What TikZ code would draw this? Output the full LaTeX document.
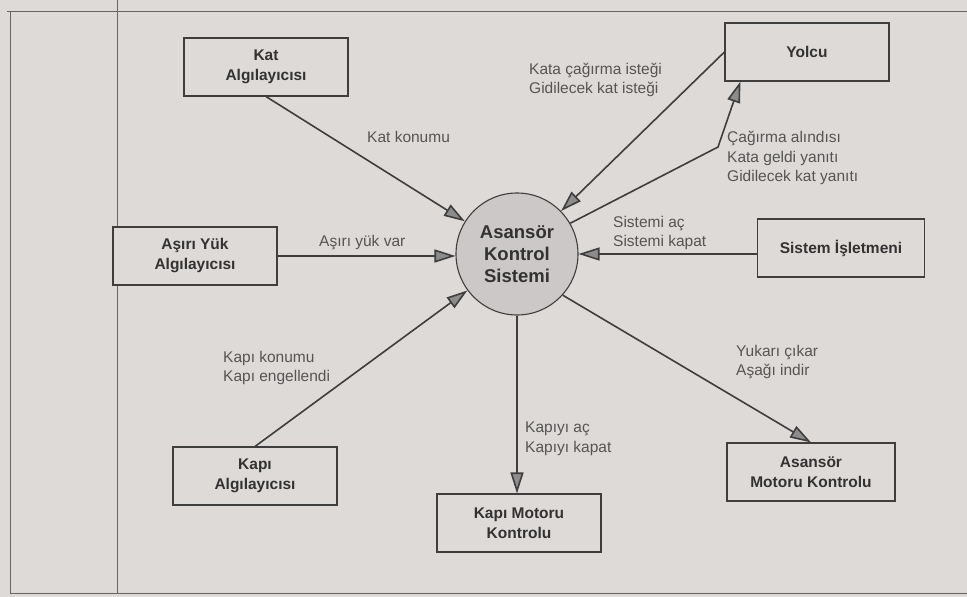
\documentclass[tikz,border=0pt]{standalone}
\usepackage{fontspec}
\setmainfont{Liberation Sans}
\usetikzlibrary{arrows.meta}
\definecolor{paperColor}{RGB}{222, 218, 216}
\definecolor{circleColor}{RGB}{204, 200, 199}
\definecolor{lineColor}{RGB}{62, 62, 62}
\definecolor{tipColor}{RGB}{140, 140, 140}
\definecolor{boxTextColor}{RGB}{50, 50, 50}
\definecolor{labelColor}{RGB}{85, 85, 85}

\begin{document}
\begin{tikzpicture}[
		x=1pt, y=-1pt,
		% Define styles for nodes
		processbox/.style={
				draw=lineColor,
				rectangle,
				line width=1.1pt,
				minimum width=164pt,
				minimum height=58pt,
				fill=paperColor,
				text=boxTextColor,
				align=center,
				font=\fontsize{15.5}{20}\selectfont\bfseries
			},
		controlproc/.style={
				draw=lineColor,
				circle,
				line width=1.1pt,
				minimum size=122pt,
				fill=circleColor,
				text=boxTextColor,
				align=center,
				font=\fontsize{18.5}{22}\selectfont\bfseries
			},
		flowlabel/.style={
				anchor=west,
				inner sep=0pt,
				align=left,
				text=labelColor,
				font=\fontsize{15.5}{19.5}\selectfont
			},
		flow/.style={
				-{Triangle[length=21pt, width=13pt, fill=tipColor]},
				line width=1.6pt,
				draw=lineColor
			},
		frameline/.style={
				line width=1pt,
				draw=lineColor!80
			}
	]

	% Page and frame
	\useasboundingbox (0,0) rectangle (967,597);
	\fill[paperColor] (0,0) rectangle (967,597);
	\draw[frameline] (7,11) -- (967,11);
	\draw[frameline] (10,11) -- (10,593) -- (967,593);
	\draw[frameline] (117,0) -- (117,593);

	% Central process
	\node[controlproc] (control) at (517,254) {Asansör\\Kontrol\\Sistemi};

	% External entities
	\node[processbox] (katsensor) at (266,67) {Kat\\Algılayıcısı};
	\node[processbox] (overload) at (195,256) {Aşırı Yük\\Algılayıcısı};
	\node[processbox] (yolcu) at (807,52) {Yolcu};
	\node[processbox, minimum width=167pt] (operator) at (841,248) {Sistem İşletmeni};
	\node[processbox] (doorsensor) at (255,476) {Kapı\\Algılayıcısı};
	\node[processbox] (doormotor) at (519,523) {Kapı Motoru\\Kontrolu};
	\node[processbox, minimum width=168pt] (liftmotor) at (811,472) {Asansör\\Motoru Kontrolu};

	% Bend of the reply flow
	\coordinate (replybend) at (718,147);

	% ARROWS: data flows
	\draw[flow] (katsensor.south) -- (control);
	\draw[flow] (overload.east) -- (overload.east -| control.west);
	\draw[flow] (yolcu.west) -- (control);
	\draw[flow] (control.30) -- (replybend) -- ([xshift=16pt]yolcu.south west);
	\draw[flow] (operator.west |- control.east) -- (control.east);
	\draw[flow] (doorsensor.north) -- (control);
	\draw[flow] (control.south) -- (control.south |- doormotor.north);
	\draw[flow] (control.-42) -- (liftmotor.north);

	% Flow labels
	\node[flowlabel] (katlabel) at (367,137) {Kat konumu};
	\node[flowlabel] (overloadlabel) at (319,243) {Aşırı yük var};
	\node[flowlabel] (requestlabel) at (529,80) {Kata çağırma isteği\\Gidilecek kat isteği};
	\node[flowlabel] (replylabel) at (727,158) {Çağırma alındısı\\Kata geldi yanıtı\\Gidilecek kat yanıtı};
	\node[flowlabel] (operatorlabel) at (613,233) {Sistemi aç\\Sistemi kapat};
	\node[flowlabel] (doorsensorlabel) at (223,368) {Kapı konumu\\Kapı engellendi};
	\node[flowlabel] (doormotorlabel) at (525,439) {Kapıyı aç\\Kapıyı kapat};
	\node[flowlabel] (liftmotorlabel) at (736,362) {Yukarı çıkar\\Aşağı indir};

\end{tikzpicture}
\end{document}
